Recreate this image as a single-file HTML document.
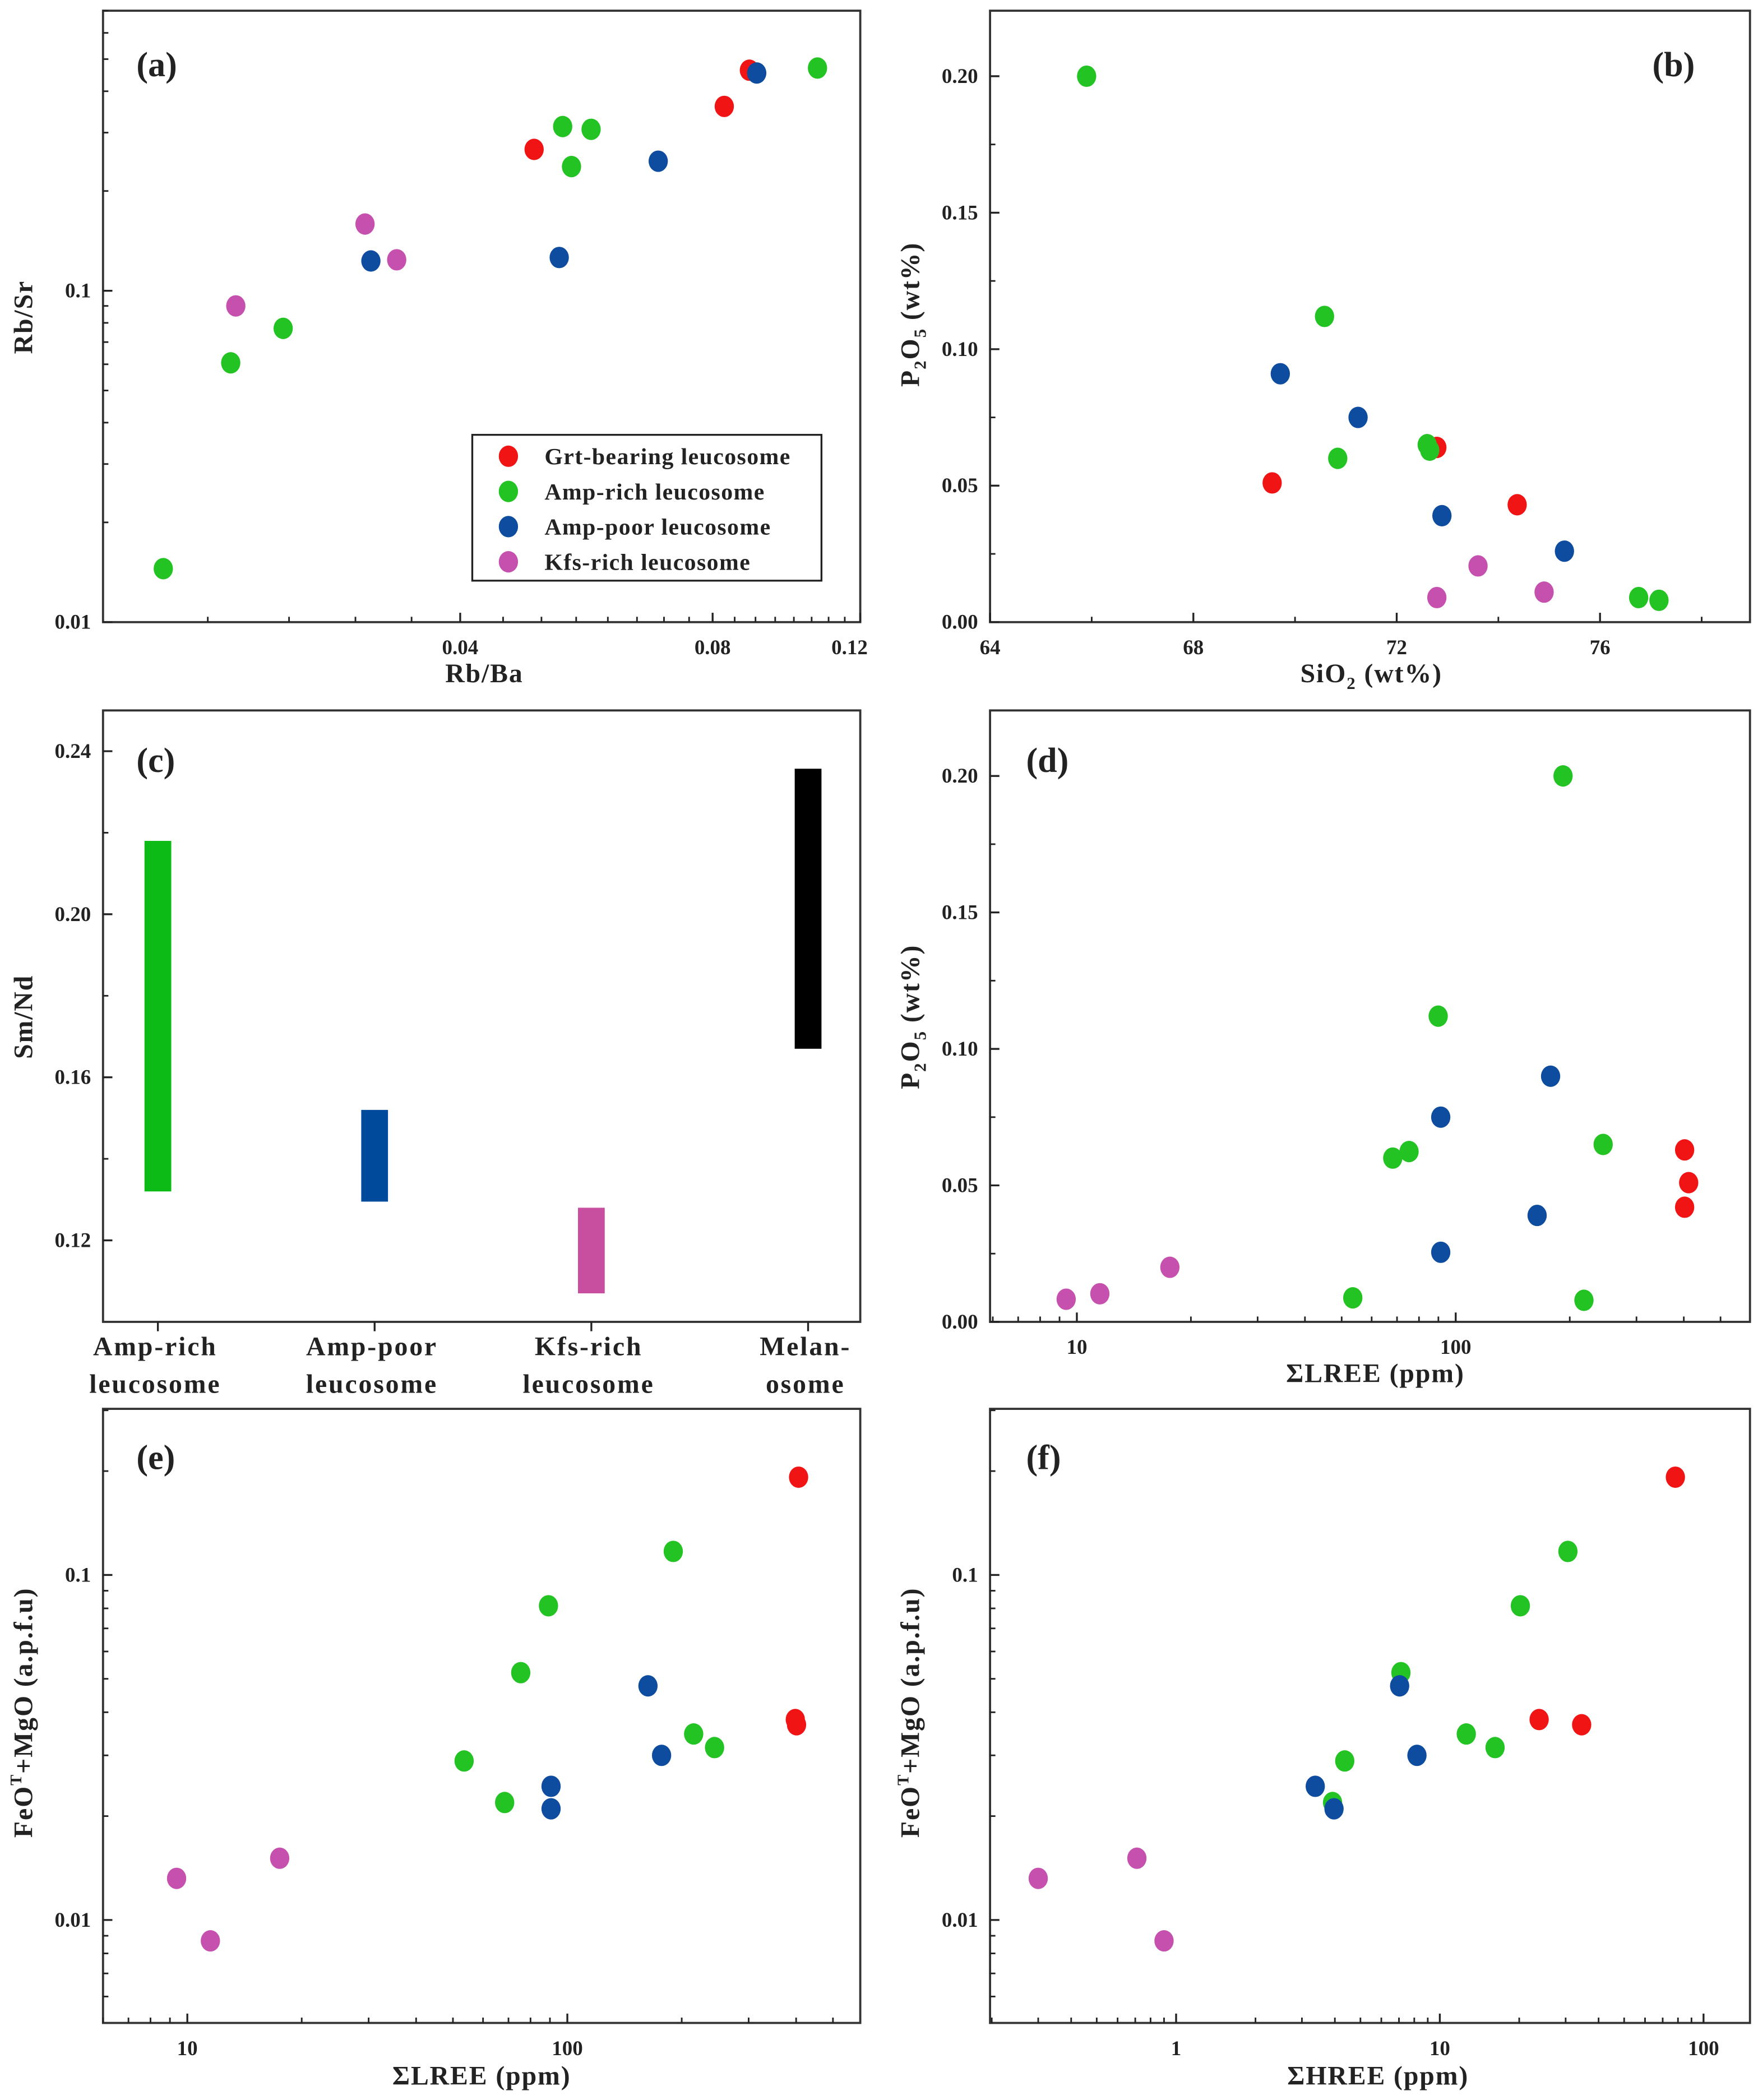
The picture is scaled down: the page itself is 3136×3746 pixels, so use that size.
<!DOCTYPE html>
<html><head><meta charset="utf-8"><style>
html,body{margin:0;padding:0;background:#fff;}
svg, svg text{font-family:"Liberation Serif","Times New Roman",serif !important;font-weight:bold;}
</style></head><body>
<svg id="fig" width="3136" height="3741" viewBox="0 0 1314 1567.5" font-family="Liberation Serif, serif" font-weight="bold" xmlns="http://www.w3.org/2000/svg"></svg>
<script>
// ---------- DATA ----------
const groups = ["Grt-bearing leucosome","Amp-rich leucosome","Amp-poor leucosome","Kfs-rich leucosome"];
const colors = ["#f01414","#22c322","#0d4c9f","#c650ad"];
// panel a: Rb/Ba vs Rb/Sr
const aRedX=[0.049,0.0826,0.0885], aRedY=[0.267,0.36,0.463];
const aGreenX=[0.1067,0.053,0.0573,0.0543,0.0246,0.0213,0.0177], aGreenY=[0.47,0.313,0.307,0.237,0.077,0.0606,0.0145];
const aBlueX=[0.0903,0.0689,0.0525,0.0313], aBlueY=[0.454,0.246,0.126,0.123];
const aPinkX=[0.0308,0.0336,0.0216], aPinkY=[0.159,0.124,0.090];
// panel b: SiO2 vs P2O5
const bRedX=[69.55,72.79,74.37], bRedY=[0.051,0.064,0.043];
const bGreenX=[65.9,70.58,70.84,72.6,72.65,76.76,77.16], bGreenY=[0.200,0.112,0.060,0.065,0.063,0.009,0.008];
const bBlueX=[69.71,71.24,72.89,75.3], bBlueY=[0.091,0.075,0.039,0.026];
const bPinkX=[72.79,73.6,74.9], bPinkY=[0.009,0.0206,0.011];
// panel c: Sm/Nd ranges
const cCats=[["Amp-rich","leucosome"],["Amp-poor","leucosome"],["Kfs-rich","leucosome"],["Melan-","osome"]];
const cLow=[0.132,0.1295,0.107,0.167], cHigh=[0.218,0.152,0.128,0.2357];
const cColors=["#0dbb16","#004a9c","#c84f9f","#000000"];
// panel d: LREE vs P2O5
const dRedX=[402,412,402], dRedY=[0.063,0.051,0.042];
const dGreenX=[192,89.9,68.2,75.3,245,53.5,218], dGreenY=[0.200,0.112,0.060,0.0624,0.065,0.0088,0.0079];
const dBlueX=[91.3,178,164,91.3], dBlueY=[0.075,0.090,0.039,0.0255];
const dPinkX=[9.37,11.5,17.6], dPinkY=[0.0083,0.0103,0.020];
// panel e: LREE vs FeOT+MgO
const eRedX=[406,398,401], eRedY=[0.192,0.0381,0.0368];
const eGreenX=[190,89.2,75.4,53.5,68.4,215,244], eGreenY=[0.117,0.0814,0.0521,0.0289,0.0219,0.0346,0.0316];
const eBlueX=[163,177,90.6,90.6], eBlueY=[0.0477,0.0300,0.0244,0.0210];
const ePinkX=[9.37,11.5,17.5], ePinkY=[0.0132,0.0087,0.0151];
// panel f: HREE vs FeOT+MgO
const fRedX=[78.2,23.8,34.5], fRedY=[0.192,0.0381,0.0368];
const fGreenX=[30.6,20.2,7.12,4.36,3.92,12.6,16.2], fGreenY=[0.117,0.0814,0.0521,0.0289,0.0219,0.0346,0.0316];
const fBlueX=[7.04,8.19,3.37,3.97], fBlueY=[0.0477,0.0300,0.0244,0.0210];
const fPinkX=[0.30,0.90,0.71], fPinkY=[0.0132,0.0087,0.0151];
// tick labels
const aXTicks=[0.04,0.08,0.12], aYTicks=[0.01,0.1];
const bXTicks=[64,68,72,76], bYTicks=[0,0.05,0.10,0.15,0.20];
const cYTicks=[0.12,0.16,0.20,0.24];
const dXTicks=[10,100], dYTicks=[0,0.05,0.10,0.15,0.20];
const eXTicks=[10,100], eYTicks=[0.01,0.1];
const fXTicks=[1,10,100], fYTicks=[0.01,0.1];

// ---------- DRAW ----------
const NS="http://www.w3.org/2000/svg";
const svg=document.getElementById('fig');
const FF='Liberation Serif, serif';
function mk(tag,attrs,parent){const e=document.createElementNS(NS,tag);for(const k in attrs)e.setAttribute(k,attrs[k]);if(tag==='text'){e.setAttribute('font-family',FF);e.setAttribute('font-weight','bold');}(parent||svg).appendChild(e);return e;}
function linS(d0,d1,r0,r1){return v=>r0+(v-d0)/(d1-d0)*(r1-r0);}
function logS(d0,d1,r0,r1){const a=Math.log10(d0),b=Math.log10(d1);return v=>r0+(Math.log10(v)-a)/(b-a)*(r1-r0);}
function fmt(v,dec){return dec==null?String(v):v.toFixed(dec);}

function panel(id,box,xs,ys,opt){
  const g=mk('g',{});
  
  
  const fr=mk('rect',{x:box.l,y:box.t,width:box.r-box.l,height:box.b-box.t,fill:'none',stroke:'#333',"stroke-width":1.6},g);
  
  
  (opt.xMinor||[]).forEach(v=>{const x=xs(v);if(x<box.l||x>box.r)return;
    const t=mk('line',{x1:x,x2:x,y1:box.b,y2:box.b-4,stroke:'#222',"stroke-width":1.2},g);
    
    });
  (opt.xTicks||[]).forEach(v=>{const x=xs(v);
    const t=mk('line',{x1:x,x2:x,y1:box.b,y2:box.b-7,stroke:'#222',"stroke-width":1.4},g);
    
    
    const tx=mk('text',{x:Math.min(x,box.r-8),y:box.b+24,"text-anchor":'middle',"font-size":15.5,fill:'#222'},g);
    tx.textContent=fmt(v,opt.xDec);
    
    });
  (opt.yMinor||[]).forEach(v=>{const y=ys(v);if(y<box.t||y>box.b)return;
    const t=mk('line',{x1:box.l,x2:box.l+4,y1:y,y2:y,stroke:'#222',"stroke-width":1.2},g);
    
    });
  (opt.yTicks||[]).forEach(v=>{const y=ys(v);
    const t=mk('line',{x1:box.l,x2:box.l+7,y1:y,y2:y,stroke:'#222',"stroke-width":1.4},g);
    
    
    const tx=mk('text',{x:box.l-9,y:y+5,"text-anchor":'end',"font-size":15.5,fill:'#222'},g);
    tx.textContent=fmt(v,opt.yDec);
    
    });
  const pl=mk('text',{x:opt.lab[0],y:opt.lab[1],"font-size":26,fill:'#222'},g);
  pl.textContent='('+id+')';
  
  
  (opt.series||[]).forEach((s,i)=>{
    s[0].forEach((xv,j)=>{
      const c=mk('ellipse',{cx:xs(xv),cy:ys(s[1][j]),rx:7.2,ry:8,fill:colors[i]},g);
      
      
    });
  });
  return g;
}
function logMinor(a,b){const r=[];for(let e=a;e<b;e++)for(let k=2;k<=9;k++)r.push(k*Math.pow(10,e));return r;}
function axisTitle(txt,x,y,rot,html){
  const t=mk('text',{x:x,y:y,"text-anchor":'middle',"font-size":20,fill:'#222',"letter-spacing":0.8,transform:rot?`rotate(-90 ${x} ${y})`:''});
  if(html){t.innerHTML=html;}else t.textContent=txt;
  
  
}

// (a)
{const box={l:77,r:643,t:8,b:465};
 const xs=logS(0.015,0.12,box.l,box.r), ys=logS(0.01,0.7,box.b,box.t);
 const xm=[];for(let v=0.02;v<0.12;v+=0.005)xm.push(v);
 panel('a',box,xs,ys,{xTicks:aXTicks,yTicks:aYTicks,xMinor:xm,yMinor:logMinor(-2,0),xDec:2,lab:[102,57],
  series:[[aRedX,aRedY],[aGreenX,aGreenY],[aBlueX,aBlueY],[aPinkX,aPinkY]]});
 axisTitle('Rb/Ba',362,510,false);
 axisTitle('Rb/Sr',24,237,true);
 const lg=mk('g',{});
 
 
 const lb=mk('rect',{x:353,y:325,width:261,height:109,fill:'#fff',stroke:'#222',"stroke-width":1.4},lg);
 
 
 groups.forEach((gname,i)=>{
   const y=341+i*26.3;
   const m=mk('ellipse',{cx:380,cy:y,rx:7.2,ry:8,fill:colors[i]},lg);
   
   
   const t=mk('text',{x:407,y:y+6,"font-size":17.5,fill:'#222',"letter-spacing":0.6},lg);
   t.textContent=gname;
   
   
 });}
// (b)
{const box={l:740,r:1308,t:8,b:465};
 const xs=linS(64,78.95,box.l,box.r), ys=linS(0,0.224,box.b,box.t);
 panel('b',box,xs,ys,{xTicks:bXTicks,yTicks:bYTicks,xMinor:[66,70,74,78],yMinor:[0.025,0.075,0.125,0.175],yDec:2,lab:[1235,57],
  series:[[bRedX,bRedY],[bGreenX,bGreenY],[bBlueX,bBlueY],[bPinkX,bPinkY]]});
 axisTitle('',1025,510,false,'SiO<tspan font-size="13" dy="5">2</tspan><tspan dy="-5"> (wt%)</tspan>');
 axisTitle('',687,235,true,'P<tspan font-size="13" dy="5">2</tspan><tspan dy="-5">O</tspan><tspan font-size="13" dy="5">5</tspan><tspan dy="-5"> (wt%)</tspan>');}
// (c)
{const box={l:77,r:643,t:531,b:988};
 const ys=linS(0.10,0.25,box.b,box.t);
 const xs=i=>118+i*162;
 panel('c',box,v=>v,ys,{yTicks:cYTicks,yMinor:[0.14,0.18,0.22],yDec:2,lab:[102,577]});
 cCats.forEach((c,i)=>{
   const x=xs(i);
   const r=mk('rect',{x:x-10,y:ys(cHigh[i]),width:20,height:ys(cLow[i])-ys(cHigh[i]),fill:cColors[i]});
   
   
   const t=mk('line',{x1:x,x2:x,y1:box.b,y2:box.b+7,stroke:'#222',"stroke-width":1.4});
   
   
   c.forEach((line,k)=>{
     const tx=mk('text',{x:x-2,y:1013+k*28,"text-anchor":'middle',"font-size":20,fill:'#222',"letter-spacing":1.2});
     tx.textContent=line;
     
     
   });
 });
 axisTitle('Sm/Nd',24,760,true);}
// (d)
{const box={l:740,r:1308,t:531,b:988};
 const xs=logS(5.9,598,box.l,box.r), ys=linS(0,0.224,box.b,box.t);
 panel('d',box,xs,ys,{xTicks:dXTicks,yTicks:dYTicks,xMinor:logMinor(0,3),yMinor:[0.025,0.075,0.125,0.175],yDec:2,lab:[767,577],
  series:[[dRedX,dRedY],[dGreenX,dGreenY],[dBlueX,dBlueY],[dPinkX,dPinkY]]});
 axisTitle('ΣLREE (ppm)',1028,1033,false);
 axisTitle('',687,760,true,'P<tspan font-size="13" dy="5">2</tspan><tspan dy="-5">O</tspan><tspan font-size="13" dy="5">5</tspan><tspan dy="-5"> (wt%)</tspan>');}
// (e)
{const box={l:77,r:643,t:1053,b:1512};
 const xs=logS(6.0,590,box.l,box.r), ys=logS(0.00503,0.303,box.b,box.t);
 panel('e',box,xs,ys,{xTicks:eXTicks,yTicks:eYTicks,xMinor:logMinor(0,3),yMinor:logMinor(-3,0),lab:[102,1098],
  series:[[eRedX,eRedY],[eGreenX,eGreenY],[eBlueX,eBlueY],[ePinkX,ePinkY]]});
 axisTitle('ΣLREE (ppm)',360,1558,false);
 axisTitle('',24,1280,true,'FeO<tspan font-size="12" dy="-8">T</tspan><tspan dy="8">+MgO (a.p.f.u)</tspan>');}
// (f)
{const box={l:740,r:1308,t:1053,b:1512};
 const xs=logS(0.197,150,box.l,box.r), ys=logS(0.00503,0.303,box.b,box.t);
 panel('f',box,xs,ys,{xTicks:fXTicks,yTicks:fYTicks,xMinor:logMinor(-1,3),yMinor:logMinor(-3,0),lab:[767,1098],
  series:[[fRedX,fRedY],[fGreenX,fGreenY],[fBlueX,fBlueY],[fPinkX,fPinkY]]});
 axisTitle('ΣHREE (ppm)',1030,1558,false);
 axisTitle('',687,1280,true,'FeO<tspan font-size="12" dy="-8">T</tspan><tspan dy="8">+MgO (a.p.f.u)</tspan>');}
</script>
</body></html>
